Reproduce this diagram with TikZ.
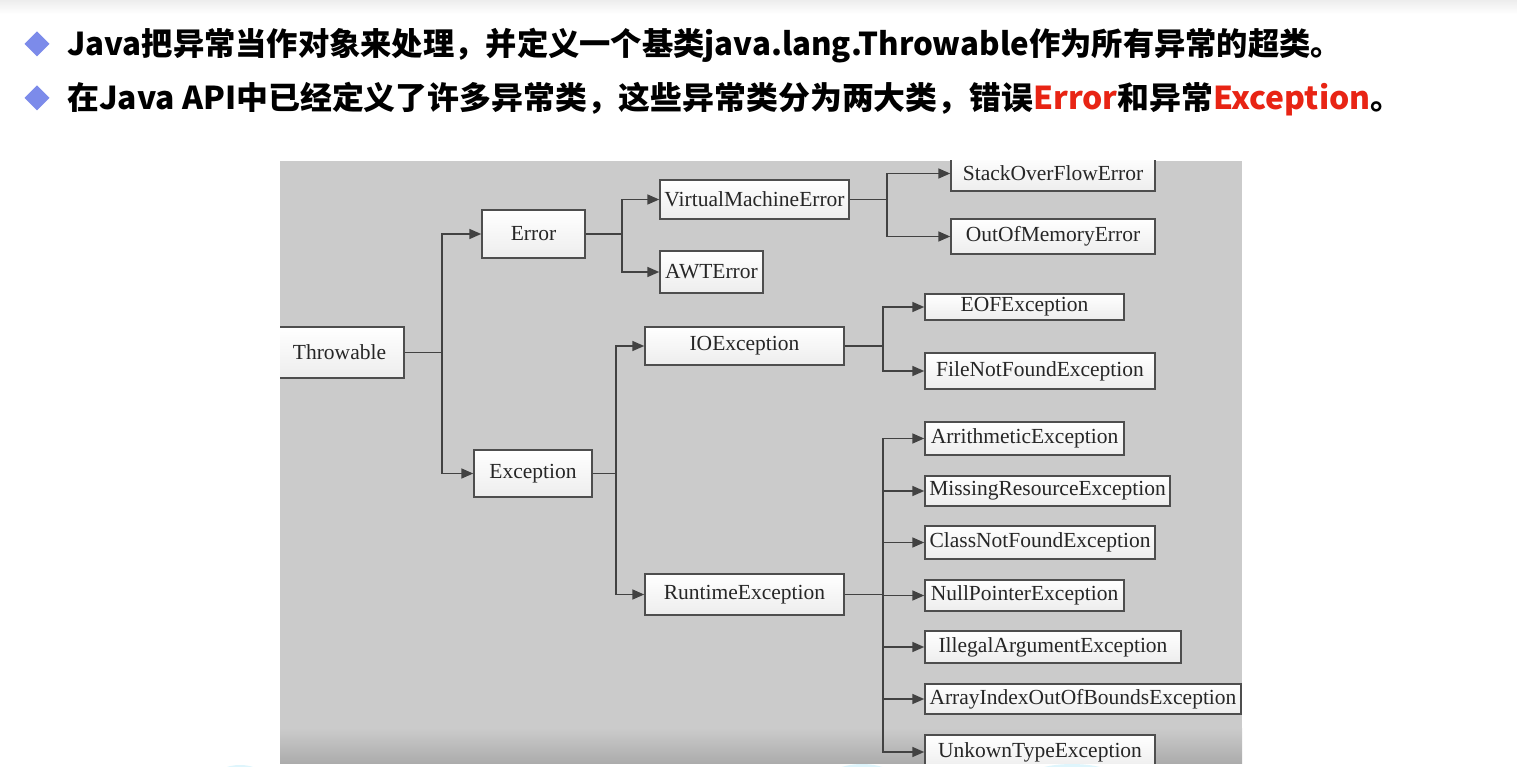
\documentclass[tikz,border=0pt]{standalone}
\usepackage{fontspec}
\setmainfont{Liberation Serif}
\newfontfamily\cjk{Noto Sans CJK SC}
\usetikzlibrary{arrows.meta}
\definecolor{panel}{RGB}{203,203,203}
\definecolor{panelbot}{RGB}{172,172,172}
\definecolor{boxline}{RGB}{78,78,78}
\definecolor{conncol}{RGB}{66,66,66}
\definecolor{txtcol}{RGB}{38,38,38}
\definecolor{bullet}{RGB}{124,139,234}
\definecolor{hired}{RGB}{232,36,20}
\definecolor{faintcyan}{RGB}{222,245,252}
\tikzset{
  cls/.style={draw=boxline, line width=1.5pt, top color=white, bottom color=black!7,
    inner sep=0pt, font=\fontsize{21.5}{24}\selectfont, text=txtcol},
  conn/.style={draw=conncol, line width=1.7pt, -{Triangle[length=12pt,width=10pt]}},
  link/.style={draw=conncol, line width=1.7pt},
  bul/.style={fill=bullet, draw=none},
  headline/.style={anchor=base west, inner sep=0pt, font=\cjk\bfseries\fontsize{31.5}{35}\selectfont}
}
\begin{document}
\begin{tikzpicture}[x=1pt,y=-1pt]
\useasboundingbox (0,0) rectangle (1517,767);
\clip (0,0) rectangle (1517,767);
\fill[white] (0,0) rectangle (1517,767);
\shade[top color=black!7, bottom color=white] (0,0) rectangle (1517,14);
% bullets
\fill[bul] (37,31.5) -- (49.5,44) -- (37,56.5) -- (24.5,44) -- cycle;
\fill[bul] (37,85.5) -- (49.5,98) -- (37,110.5) -- (24.5,98) -- cycle;
\node[headline] (l1) at (67,56) {\scalebox{0.993}[1]{Java把异常当作对象来处理，并定义一个基类java.lang.Throwable作为所有异常的超类。}};
\node[headline] (l2) at (67,110) {\scalebox{1.012}[1]{在Java API中已经定义了许多异常类，这些异常类分为两大类，错误\textcolor{hired}{Error}和异常\textcolor{hired}{Exception}。}};
% faint decorative shapes below panel
\fill[faintcyan] (240,782) ellipse (28 and 17);
\fill[faintcyan] (862,786) ellipse (40 and 22);
\fill[faintcyan] (1072,786) ellipse (55 and 22);
% panel
\begin{scope}
\clip (280,161) rectangle (1242,763);
\fill[panel] (280,161) rectangle (1242,763);
\shade[top color=panel, bottom color=panelbot] (280,728) rectangle (1242,763);
% nodes
\node[cls, minimum width=129pt, minimum height=51pt] (thr) at (339.5,352.5) {Throwable};
\node[cls, minimum width=103pt, minimum height=48pt] (err) at (533.5,234) {Error};
\node[cls, minimum width=118pt, minimum height=47pt] (exc) at (533,473.5) {Exception};
\node[cls, minimum width=189pt, minimum height=39pt] (vme) at (754.5,199.5) {VirtualMachineError};
\node[cls, minimum width=103pt, minimum height=42pt] (awt) at (711.5,272) {AWTError};
\node[cls, minimum width=199pt, minimum height=38pt] (ioe) at (744.5,346) {IOException};
\node[cls, minimum width=199pt, minimum height=41pt] (rte) at (744.5,594.5) {RuntimeException};
\node[cls, minimum width=204pt, minimum height=35pt] (sof) at (1053,173.5) {StackOverFlowError};
\node[cls, minimum width=204pt, minimum height=35pt] (oom) at (1053,236.5) {OutOfMemoryError};
\node[cls, minimum width=199pt, minimum height=26pt] (eof) at (1024.5,307) {EOFException};
\node[cls, minimum width=230pt, minimum height=36pt] (fnf) at (1040,371) {FileNotFoundException};
\node[cls, minimum width=199pt, minimum height=33pt] (ari) at (1024.5,438.5) {ArrithmeticException};
\node[cls, minimum width=245pt, minimum height=30pt] (mis) at (1047.5,491) {MissingResourceException};
\node[cls, minimum width=230pt, minimum height=33pt] (cnf) at (1040,542.5) {ClassNotFoundException};
\node[cls, minimum width=199pt, minimum height=31pt] (npe) at (1024.5,595.5) {NullPointerException};
\node[cls, minimum width=256pt, minimum height=32pt] (iae) at (1053,647) {IllegalArgumentException};
\node[cls, minimum width=316pt, minimum height=30pt] (aio) at (1083,699) {ArrayIndexOutOfBoundsException};
\node[cls, minimum width=230pt, minimum height=34pt] (ute) at (1040,752) {UnkownTypeException};
% trunk points
\coordinate (t1) at (442,352.5);
\coordinate (t2) at (622,234);
\coordinate (t3) at (616,473.5);
\coordinate (t4) at (887,199.5);
\coordinate (t5) at (883,346);
\coordinate (t6) at (883,594.5);
% connectors
\draw[link] (thr.east) -- (t1);
\draw[conn] (t1) |- (err.west);
\draw[conn] (t1) |- (exc.west);
\draw[link] (err.east) -- (t2);
\draw[conn] (t2) |- (vme.west);
\draw[conn] (t2) |- (awt.west);
\draw[link] (exc.east) -- (t3);
\draw[conn] (t3) |- (ioe.west);
\draw[conn] (t3) |- (rte.west);
\draw[link] (vme.east) -- (t4);
\draw[conn] (t4) |- (sof.west);
\draw[conn] (t4) |- (oom.west);
\draw[link] (ioe.east) -- (t5);
\draw[conn] (t5) |- (eof.west);
\draw[conn] (t5) |- (fnf.west);
\draw[link] (rte.east) -- (t6);
\draw[conn] (t6) |- (ari.west);
\draw[conn] (t6) |- (mis.west);
\draw[conn] (t6) |- (cnf.west);
\draw[conn] (t6) |- (npe.west);
\draw[conn] (t6) |- (iae.west);
\draw[conn] (t6) |- (aio.west);
\draw[conn] (t6) |- (ute.west);
\end{scope}
\end{tikzpicture}
\end{document}
